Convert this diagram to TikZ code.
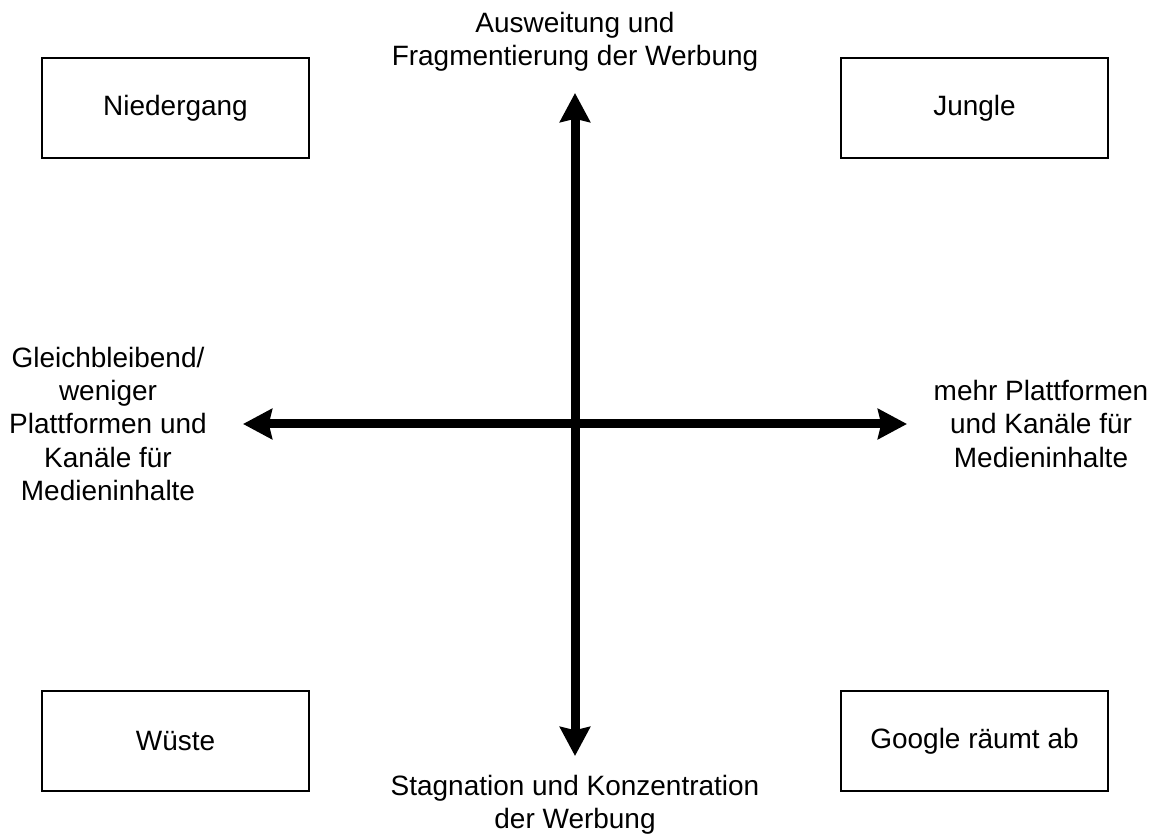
\documentclass[tikz,border=0pt]{standalone}
\usepackage{fontspec}
\setmainfont{Liberation Sans}
\usetikzlibrary{arrows.meta}

\begin{document}
\begin{tikzpicture}[
		feld/.style={draw, line width=1pt, minimum width=6.675cm, minimum height=2.5cm, font=\fontsize{19.9}{23.5}\selectfont},
		achsentext/.style={align=center, font=\fontsize{19.9}{23.5}\selectfont},
		achse/.style={line width=0.225cm, {Stealth[length=0.725cm, width=0.75cm, inset=0.08cm]}-{Stealth[length=0.725cm, width=0.75cm, inset=0.08cm]}}
	]
			\useasboundingbox (0,0) rectangle (29.05,20.925);
			\node[feld] (niedergang) at (4.3875,18.225) {Niedergang};
			\node[feld] (jungle) at (24.3625,18.225) {Jungle};
			\node[feld] (wueste) at (4.3875,2.4) {Wüste};
			\node[feld] (google) at (24.3625,2.4) {Google räumt ab};
			\coordinate (oben) at (14.375,18.6);
			\coordinate (unten) at (14.375,2.025);
			\coordinate (links) at (6.075,10.325);
			\coordinate (rechts) at (22.675,10.325);
			\draw[achse] (unten) -- (oben);
			\draw[achse] (links) -- (rechts);
			\node[achsentext] (ausweitung) at (14.375,19.875) {Ausweitung und\\Fragmentierung der Werbung};
			\node[achsentext] (stagnation) at (14.375,0.8) {Stagnation und Konzentration\\der Werbung};
			\node[achsentext] (weniger) at (2.7,10.325) {Gleichbleibend/\\weniger\\Plattformen und\\Kanäle für\\Medieninhalte};
			\node[achsentext] (mehr) at (26.025,10.325) {mehr Plattformen\\und Kanäle für\\Medieninhalte};
		\end{tikzpicture}
\end{document}
